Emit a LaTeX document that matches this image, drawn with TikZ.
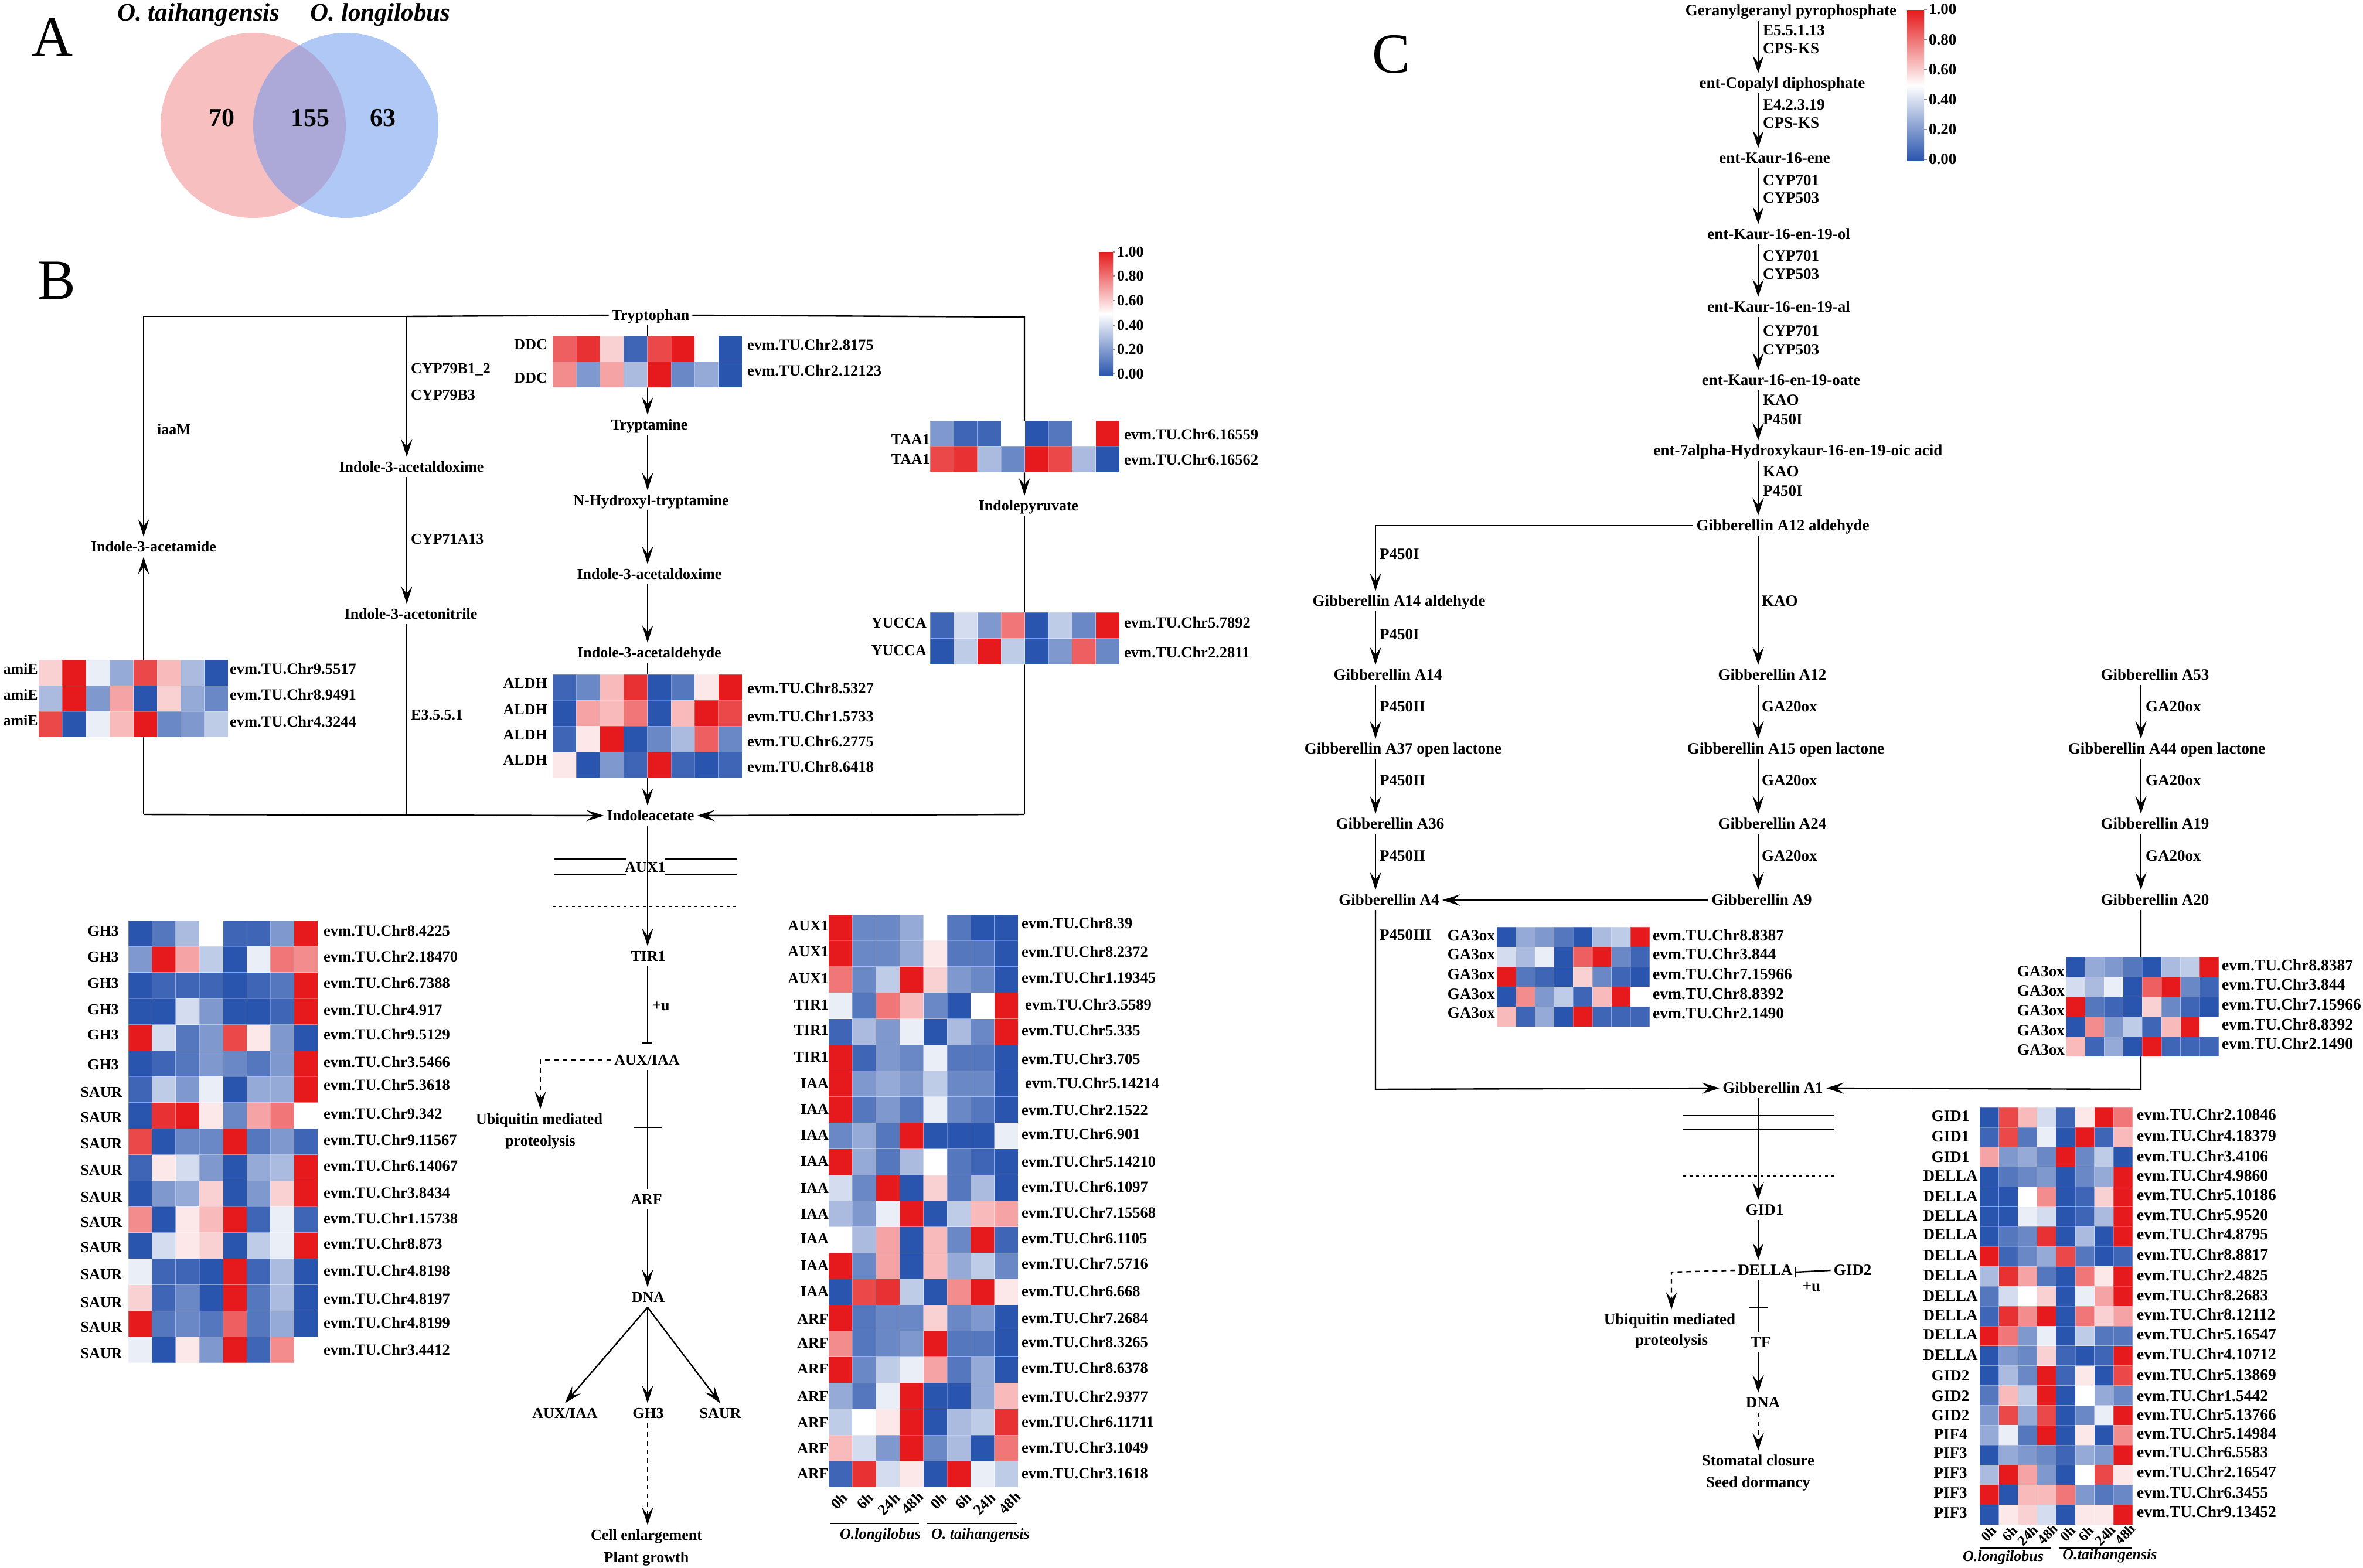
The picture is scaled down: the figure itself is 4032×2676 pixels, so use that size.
\documentclass[tikz,border=0pt]{standalone}
\usepackage{fontspec}
\setmainfont{Liberation Serif}
\usetikzlibrary{arrows.meta}
\definecolor{hb}{HTML}{2A55AE}
\definecolor{hr}{HTML}{E61A1C}
\definecolor{vl}{HTML}{F8BFC1}
\definecolor{vr}{HTML}{B0C8F5}
\definecolor{vo}{HTML}{ACA9D8}
\newcommand\cellcol[1]{\ifnum#1<0 \edef\pct{\the\numexpr(#1)*(-10)\relax}\colorlet{cc}{hb!\pct!white}\else\edef\pct{\the\numexpr(#1)*10\relax}\colorlet{cc}{hr!\pct!white}\fi}
\newcommand\heatmap[5]{%
 \foreach \row [count=\j from 0] in {#5}{%
  \foreach \v [count=\i from 0] in \row {%
   \cellcol{\v}%
   \path[fill=cc,draw=white,draw opacity=.25,line width=.8pt] ({#1+\i*#3},{#2+\j*#4}) rectangle ++(#3,#4);
  }}}
\tikzset{
 ln/.style={line width=2.4pt,draw=black},
 arr/.style={ln,-{Stealth[length=30pt,width=19pt,inset=12pt]}},
 darr/.style={arr,dash pattern=on 8pt off 7pt},
 mem/.style={line width=2.2pt,dash pattern=on 5pt off 6pt},
 base/.style={inner sep=0pt,text height=18pt,text depth=1pt},
 fb/.style={font=\fontsize{26}{30}\selectfont\bfseries},
 fc/.style={font=\fontsize{27}{30}\selectfont\bfseries},
 lb/.style={base,fb,inner xsep=5pt,inner ysep=7.5pt},
 lc/.style={base,fc,inner xsep=5pt,inner ysep=7.5pt},
 gb/.style={base,anchor=west,font=\fontsize{26.5}{30}\selectfont\bfseries},
 gc/.style={base,anchor=west,font=\fontsize{27.5}{30}\selectfont\bfseries},
 rb/.style={base,anchor=east,fb},
 rc/.style={base,anchor=east,fc},
 eb/.style={base,anchor=west,fb},
 ec/.style={base,anchor=west,fc},
 tb/.style={base,rotate=45,fb},
 tc/.style={base,rotate=45,font=\fontsize{24}{28}\selectfont\bfseries},
 sp/.style={inner sep=0pt,font=\fontsize{26}{30}\selectfont\bfseries\itshape},
 spbig/.style={inner sep=0pt,font=\fontsize{43}{48}\selectfont\bfseries\itshape},
 panel/.style={inner sep=0pt,font=\fontsize{97}{100}\selectfont},
 num/.style={inner sep=0pt,font=\fontsize{44}{48}\selectfont\bfseries},
 tick/.style={line width=1.5pt,draw=black!45},
}
\begin{document}
\begin{tikzpicture}[x=1pt,y=-1pt]
\useasboundingbox (0,0) rectangle (4032,2676);
% ---------- A
\node[panel] (pa) at (90,63) {A};
\fill[vl] (432,214) circle (158pt);
\fill[vr] (590,214) circle (158pt);
\begin{scope}\clip (432,214) circle (158pt);\fill[vo] (590,214) circle (158pt);\end{scope}
\node[spbig] (sa1) at (339,25) {O. taihangensis};
\node[spbig] (sa2) at (649,25) {O. longilobus};
\node[num] (n70) at (378,201) {70};
\node[num] (n155) at (529,201) {155};
\node[num] (n63) at (653,201) {63};
% ---------- B
\node[panel] (pb) at (97,479) {B};
\coordinate (bx) at (1105,0);
\coordinate (jl) at (245,540);
\coordinate (jm) at (694,540);
\coordinate (jr) at (1748,541);
\coordinate (jbl) at (245,1390);
\coordinate (jbm) at (694,1390);
\coordinate (jbr) at (1748,1390);
\node[lb] (trp) at (1110,538) {Tryptophan};
\node[lb] (tra) at (1108,725) {Tryptamine};
\node[lb] (nhy) at (1111,854) {N-Hydroxyl-tryptamine};
\node[lb] (ald) at (1108,980) {Indole-3-acetaldoxime};
\node[lb] (alh) at (1108,1114) {Indole-3-acetaldehyde};
\node[lb] (ia) at (1110,1392) {Indoleacetate};
\node[lb] (iam) at (262,933) {Indole-3-acetamide};
\node[lb] (iao) at (702,797) {Indole-3-acetaldoxime};
\node[lb] (ian) at (701,1048) {Indole-3-acetonitrile};
\node[lb] (ipy) at (1755,863) {Indolepyruvate};
\node[eb] (e1) at (268,733) {iaaM};
\node[eb] (e2) at (701,629) {CYP79B1\_2};
\node[eb] (e3) at (701,674) {CYP79B3};
\node[eb] (e4) at (701,920) {CYP71A13};
\node[eb] (e5) at (701,1220) {E3.5.5.1};
\draw[ln] (trp.west) -- (jm);
\draw[arr] (jm) -- (jl) -- (jl |- iam.north);
\draw[arr] (jm) -- (jm |- iao.north);
\draw[arr] (iao.south -| jm) -- (jm |- ian.north);
\draw[ln] (ian.south -| jm) -- (jbm);
\draw[arr] (trp.east) -- (jr) -- (jr |- ipy.north);
\draw[ln] (ipy.south -| jr) -- (jbr);
\draw[arr] (jbr) -- (ia.east);
\draw[arr] (jbl) -- (ia.west);
\draw[arr] (jbl) -- (jbl |- iam.south);
\draw[arr] (trp.south -| bx) -- (tra.north -| bx);
\draw[arr] (tra.south -| bx) -- (nhy.north -| bx);
\draw[arr] (nhy.south -| bx) -- (ald.north -| bx);
\draw[arr] (ald.south -| bx) -- (alh.north -| bx);
\draw[arr] (alh.south -| bx) -- (ia.north -| bx);
% lower B
\node[lb] (tir) at (1106,1632) {TIR1};
\node[base,fb] (aux) at (1101,1480) {AUX1};
\node[lb] (aia) at (1104,1809) {AUX/IAA};
\node[lb] (arf) at (1103,2047) {ARF};
\node[lb] (dna) at (1106,2214) {DNA};
\node[lb] (aia2) at (964,2412) {AUX/IAA};
\node[lb] (gh3) at (1106,2412) {GH3};
\node[lb] (saur) at (1229,2412) {SAUR};
\node[lb] (cell) at (1103,2620) {Cell enlargement};
\node[base,fb] (plant) at (1103,2658) {Plant growth};
\node[lb] (ubi) at (920,1910) {Ubiquitin mediated};
\node[base,fb] (pro) at (922,1947) {proteolysis};
\node[base,fb] (pu) at (1128,1716) {+u};
\draw[ln] (945,1466) -- (1068,1466) (945,1492) -- (1068,1492) (1134,1466) -- (1258,1466) (1134,1492) -- (1258,1492);
\draw[mem] (943,1547) -- (1260,1547);
\draw[arr] (ia.south -| bx) -- (tir.north -| bx);
\coordinate (tb1) at (1105,1780);
\draw[ln] (tir.south -| bx) -- (tb1);
\draw[ln] (1095,1780) -- (1113,1780);
\draw[ln] (aia.south -| bx) -- (arf.north -| bx);
\draw[ln] (1081,1924) -- (1130,1924);
\draw[arr] (arf.south -| bx) -- (dna.north -| bx);
\draw[arr] (dna.south -| bx) -- (aia2.north);
\draw[arr] (dna.south -| bx) -- (gh3.north -| bx);
\draw[arr] (dna.south -| bx) -- (saur.north);
\draw[darr] (gh3.south -| bx) -- (cell.north -| bx);
\coordinate (dj) at (922,1809);
\draw[darr] (aia.west) -- (dj) -- (dj |- ubi.north);
% heatmaps B
\heatmap{943}{573}{40.4}{44}{{7,9,2,-9,8,10,0,-10},{5,-6,4,-4,10,-7,-5,-10}}
\node[rb] (d1) at (934,588) {DDC};
\node[rb] (d2) at (934,645) {DDC};
\node[gb] (dg1) at (1275,589) {evm.TU.Chr2.8175};
\node[gb] (dg2) at (1275,633) {evm.TU.Chr2.12123};
\heatmap{66}{1126}{40.4}{44}{{2,10,-1,-5,8,3,-4,-10},{-4,10,-6,4,-10,2,-5,-7},{8,-10,-1,3,10,-7,-6,-3}}
\foreach \y/\t [count=\i] in {1142/9.5517,1186/8.9491,1232/4.3244}{\node[gb,name=ag\i] at (392,\y) {evm.TU.Chr\t};}
\foreach \y [count=\i] in {1142,1186,1230}{\node[rb,name=am\i] at (65,\y) {amiE};}
\heatmap{943}{1151}{40.4}{44.2}{{-9,-7,3,9,-10,-8,1,10},{-10,4,3,6,-10,3,10,8},{-9,1,10,-10,-7,-4,7,-7},{1,-10,-6,-9,10,-9,-10,-9}}
\foreach \y [count=\i] in {1166,1211,1254,1297}{\node[rb,name=al\i] at (934,\y) {ALDH};}
\foreach \y/\t [count=\i] in {1175/8.5327,1223/1.5733,1266/6.2775,1309/8.6418}{\node[gb,name=lg\i] at (1275,\y) {evm.TU.Chr\t};}
\heatmap{1587}{718}{40.4}{44}{{-6,-9,-9,0,-10,-8,0,10},{8,9,-4,-7,10,8,-4,-10}}
\node[rb] (ta1) at (1587,750) {TAA1};
\node[rb] (ta2) at (1587,784) {TAA1};
\node[gb] (tg1) at (1918,742) {evm.TU.Chr6.16559};
\node[gb] (tg2) at (1918,785) {evm.TU.Chr6.16562};
\heatmap{1587}{1045}{40.4}{44.5}{{-9,-2,-6,6,-10,-3,-7,10},{-10,-3,10,-3,-10,-6,7,-7}}
\node[rb] (yu1) at (1581,1063) {YUCCA};
\node[rb] (yu2) at (1581,1110) {YUCCA};
\node[gb] (yg1) at (1918,1063) {evm.TU.Chr5.7892};
\node[gb] (yg2) at (1918,1114) {evm.TU.Chr2.2811};
% colourbar B
\shade[top color=hr,bottom color=hb,middle color=white] (1875,430) rectangle (1899,641);
\foreach \y/\t [count=\i] in {430/1.00,471/0.80,513/0.60,555/0.40,596/0.20,638/0.00}{\draw[tick] (1899,\y) -- (1903,\y); \node[eb,name=cb\i] at (1906,\y) {\t};}
% GH3/SAUR
\heatmap{219}{1571}{40.4}{44.4}{{-10,-8,-4,0,-9,-9,-6,10},{-6,10,4,-3,-10,-1,6,5},{-10,-9,-9,-9,-10,-9,-8,10},{-10,-10,-2,-6,-10,-10,-9,10},{10,-2,-8,-6,8,1,-6,-10},{-10,-9,-8,-6,-7,-8,-6,10},{-9,-3,-6,-1,-10,-5,-5,10},{-10,9,10,1,-7,4,6,0},{8,-10,-7,-7,10,-8,-6,-9},{-9,1,-2,-6,-10,-5,-4,10},{-10,-6,-5,2,-10,-6,2,10},{5,-10,1,3,10,-9,-1,-9},{-10,-2,1,2,-10,-3,-1,10},{-1,-9,-9,-10,10,-9,-4,-10},{2,-9,-7,-10,10,-8,-4,-10},{10,-8,-7,-8,7,-8,-5,-10},{-1,-10,1,-6,10,-9,5,0}}
\foreach \y [count=\i] in {1589,1633,1678,1723,1766,1817}{\node[base,fb,name=gl\i] at (176,\y) {GH3};}
\foreach \y [count=\i] in {1864,1907,1952,1997,2043,2086,2129,2175,2223,2265,2310}{\node[base,fb,name=sl\i] at (173,\y) {SAUR};}
\foreach \y/\t [count=\i] in {1589/8.4225,1633/2.18470,1678/6.7388,1724/4.917,1766/9.5129,1813/3.5466,1852/5.3618,1901/9.342,1946/9.11567,1990/6.14067,2036/3.8434,2080/1.15738,2123/8.873,2169/4.8198,2217/4.8197,2258/4.8199,2304/3.4412}{\node[gb,name=gg\i] at (552,\y) {evm.TU.Chr\t};}
% AUX heatmap
\heatmap{1414}{1561}{40.4}{44.4}{{10,-7,-7,-5,0,-8,-10,-10},{10,-7,-7,-5,1,-8,-8,-10},{6,-7,-3,10,2,-6,-7,-10},{-1,-8,6,3,-7,-10,0,10},{-9,-4,-6,-1,-10,-4,-7,10},{10,-9,-6,-7,-1,-8,-8,-10},{10,-6,-5,-6,-3,-7,-7,-10},{10,-8,-6,-8,-1,-7,-8,-10},{-7,-5,-8,10,-10,-10,-10,-1},{10,-5,-8,-4,0,-8,-9,-10},{-2,-7,10,-10,2,-8,-4,-10},{-4,-6,-1,10,-10,-3,3,4},{0,-4,4,-10,3,-7,10,-9},{10,-7,4,-10,3,-5,-3,-7},{-10,8,9,-3,-10,5,10,1},{10,-8,-7,-7,2,-7,-6,-10},{5,-8,-7,-6,10,-8,-8,-10},{10,-7,-3,-1,4,-8,-5,-10},{-5,-8,-1,10,-10,-10,-5,3},{-3,0,1,10,-10,-4,-3,9},{3,-2,-6,10,-7,-4,-10,6},{-9,9,-2,1,-10,10,-1,-3}}
\foreach \y/\t [count=\i] in {1580/AUX1,1624/AUX1,1670/AUX1,1715/TIR1,1758/TIR1,1804/TIR1,1849/IAA,1893/IAA,1937/IAA,1982/IAA,2028/IAA,2072/IAA,2114/IAA,2160/IAA,2204/IAA,2251/ARF,2292/ARF,2336/ARF,2383/ARF,2428/ARF,2472/ARF,2515/ARF}{\node[rb,name=xl\i] at (1414,\y) {\t};}
\foreach \x/\y/\t [count=\i] in {1743/1576/8.39,1743/1625/8.2372,1743/1669/1.19345,1749/1715/3.5589,1743/1759/5.335,1743/1808/3.705,1749/1849/5.14214,1743/1895/2.1522,1743/1936/6.901,1743/1983/5.14210,1743/2026/6.1097,1743/2070/7.15568,1743/2114/6.1105,1743/2157/7.5716,1743/2204/6.668,1743/2250/7.2684,1743/2291/8.3265,1743/2335/8.6378,1743/2384/2.9377,1743/2427/6.11711,1743/2471/3.1049,1743/2515/3.1618}{\node[gb,name=xg\i] at (\x,\y) {evm.TU.Chr\t};}
\foreach \x/\y/\t [count=\i] in {1432/2562/0h,1476/2562/6h,1517/2567/24h,1557/2565/48h,1602/2562/0h,1644/2562/6h,1680/2567/24h,1723/2565/48h}{\node[tb,name=tx\i] at (\x,\y) {\t};}
\draw[ln] (1416,2600) -- (1568,2600) (1582,2600) -- (1735,2600);
\node[sp] (s1) at (1502,2620) {O.longilobus};
\node[sp] (s2) at (1673,2620) {O. taihangensis};
% ---------- C
\node[panel] (pc) at (2374,93) {C};
\coordinate (cx) at (3000,0);
\coordinate (cl) at (2347,897);
\coordinate (cr) at (3653,0);
\coordinate (cb1) at (2347,1859);
\coordinate (cb2) at (3653,1859);
\node[lc] (c1) at (3056,18) {Geranylgeranyl pyrophosphate};
\node[lc] (c2) at (3041,142) {ent-Copalyl diphosphate};
\node[lc] (c3) at (3028,270) {ent-Kaur-16-ene};
\node[lc] (c4) at (3035,400) {ent-Kaur-16-en-19-ol};
\node[lc] (c5) at (3035,524) {ent-Kaur-16-en-19-al};
\node[lc] (c6) at (3039,649) {ent-Kaur-16-en-19-oate};
\node[lc] (c7) at (3068,769) {ent-7alpha-Hydroxykaur-16-en-19-oic acid};
\node[lc] (c8) at (3042,897) {Gibberellin A12 aldehyde};
\foreach \a/\b in {c1/c2,c2/c3,c3/c4,c4/c5,c5/c6,c6/c7,c7/c8}{\draw[arr] (\a.south -| cx) -- (\b.north -| cx);}
\foreach \y/\t [count=\i] in {52/E5.5.1.13,83/CPS-KS,179/E4.2.3.19,210/CPS-KS,308/CYP701,338/CYP503,437/CYP701,468/CYP503,565/CYP701,597/CYP503,683/KAO,716/P450I,805/KAO,838/P450I}{\node[ec,name=ce\i] at (3008,\y) {\t};}
% left col
\node[lc] (l1) at (2387,1026) {Gibberellin A14 aldehyde};
\node[lc] (l2) at (2368,1152) {Gibberellin A14};
\node[lc] (l3) at (2394,1278) {Gibberellin A37 open lactone};
\node[lc] (l4) at (2372,1406) {Gibberellin A36};
\node[lc] (l5) at (2370,1536) {Gibberellin A4};
\draw[arr] (c8.west) -- (cl) -- (cl |- l1.north);
\foreach \a/\b in {l1/l2,l2/l3,l3/l4,l4/l5}{\draw[arr] (\a.south -| cl) -- (\b.north -| cl);}
\foreach \y/\t [count=\i] in {946/P450I,1083/P450I,1206/P450II,1332/P450II,1461/P450II,1596/P450III}{\node[ec,name=cp\i] at (2354,\y) {\t};}
% mid col
\node[lc] (m2) at (3024,1152) {Gibberellin A12};
\node[lc] (m3) at (3047,1278) {Gibberellin A15 open lactone};
\node[lc] (m4) at (3024,1406) {Gibberellin A24};
\node[lc] (m5) at (3006,1536) {Gibberellin A9};
\draw[arr] (c8.south -| cx) -- (m2.north -| cx);
\foreach \a/\b in {m2/m3,m3/m4,m4/m5}{\draw[arr] (\a.south -| cx) -- (\b.north -| cx);}
\draw[arr] (m5.west) -- (l5.east);
\foreach \y/\t [count=\i] in {1026/KAO,1206/GA20ox,1332/GA20ox,1461/GA20ox}{\node[ec,name=cm\i] at (3006,\y) {\t};}
% right col
\node[lc] (r2) at (3677,1152) {Gibberellin A53};
\node[lc] (r3) at (3697,1278) {Gibberellin A44 open lactone};
\node[lc] (r4) at (3677,1406) {Gibberellin A19};
\node[lc] (r5) at (3677,1536) {Gibberellin A20};
\foreach \a/\b in {r2/r3,r3/r4,r4/r5}{\draw[arr] (\a.south -| cr) -- (\b.north -| cr);}
\foreach \y/\t [count=\i] in {1206/GA20ox,1332/GA20ox,1461/GA20ox}{\node[ec,name=cq\i] at (3661,\y) {\t};}
% A1
\node[lc] (a1) at (3025,1857) {Gibberellin A1};
\draw[arr] (l5.south -| cl) -- (cb1) -- (a1.west);
\draw[arr] (r5.south -| cr) -- (cb2) -- (a1.east);
\node[lc] (gd1) at (3011,2065) {GID1};
\node[lc] (del) at (3012,2168) {DELLA};
\node[lc] (gd2) at (3161,2168) {GID2};
\node[base,fc] (cu) at (3091,2195) {+u};
\node[lc] (tf) at (3004,2291) {TF};
\node[lc] (dn2) at (3008,2394) {DNA};
\node[lc] (ub2) at (2849,2252) {Ubiquitin mediated};
\node[base,fc] (pr2) at (2852,2287) {proteolysis};
\node[lc] (st) at (3000,2493) {Stomatal closure};
\node[base,fc] (sd) at (3000,2530) {Seed dormancy};
\draw[ln] (2872,1904) -- (3129,1904) (2872,1928) -- (3129,1928);
\draw[mem] (2872,2007) -- (3129,2007);
\draw[arr] (a1.south -| cx) -- (gd1.north -| cx);
\draw[arr] (gd1.south -| cx) -- (del.north -| cx);
\coordinate (tbc) at (3064,2171);
\draw[ln] (gd2.west) -- (tbc);
\draw[ln] (3064,2163) -- (3064,2179);
\draw[ln] (del.south -| cx) -- (tf.north -| cx);
\draw[ln] (2984,2231) -- (3016,2231);
\draw[arr] (tf.south -| cx) -- (dn2.north -| cx);
\draw[darr] (dn2.south -| cx) -- (st.north -| cx);
\coordinate (dj2) at (2852,2171);
\draw[darr] (del.west) -- (dj2) -- (dj2 |- ub2.north);
% colourbar C
\shade[top color=hr,bottom color=hb,middle color=white] (3254,18) rectangle (3283,274);
\foreach \y/\t [count=\i] in {16/1.00,68/0.80,119/0.60,170/0.40,221/0.20,272/0.00}{\draw[tick] (3283,\y) -- (3288,\y); \node[ec,name=cc\i] at (3291,\y) {\t};}
% GA3ox
\foreach \X/\Y/\Lx/\Gx/\pre/\Ra/\Rb/\Rc/\Rd/\Re/\Sa/\Sb/\Sc/\Sd/\Se in {2554/1582/2551/2820/a/1597/1629/1663/1697/1729/1597/1629/1663/1697/1730,3525/1633/3523/3791/b/1658/1691/1725/1759/1792/1648/1681/1715/1749/1782}{
 \heatmap{\X}{\Y}{32.6}{34}{{-10,-5,-6,-8,-10,-4,-3,10},{-2,-4,-1,-10,7,10,-7,-9},{10,-8,-9,-10,2,-7,-9,-10},{-10,5,-6,-3,-9,3,10,0},{3,-9,-5,-10,10,-9,-9,-9}}
 \node[rc,name=\pre l1] at (\Lx,\Ra) {GA3ox};
 \node[rc,name=\pre l2] at (\Lx,\Rb) {GA3ox};
 \node[rc,name=\pre l3] at (\Lx,\Rc) {GA3ox};
 \node[rc,name=\pre l4] at (\Lx,\Rd) {GA3ox};
 \node[rc,name=\pre l5] at (\Lx,\Re) {GA3ox};
 \node[gc,name=\pre g1] at (\Gx,\Sa) {evm.TU.Chr8.8387};
 \node[gc,name=\pre g2] at (\Gx,\Sb) {evm.TU.Chr3.844};
 \node[gc,name=\pre g3] at (\Gx,\Sc) {evm.TU.Chr7.15966};
 \node[gc,name=\pre g4] at (\Gx,\Sd) {evm.TU.Chr8.8392};
 \node[gc,name=\pre g5] at (\Gx,\Se) {evm.TU.Chr2.1490};
}
% GID heatmap
\heatmap{3378}{1890}{32.6}{33.9}{{-10,8,3,-2,-9,1,10,6},{-9,8,-8,-1,-10,10,-9,3},{4,-6,-5,-7,10,-7,-3,-10},{-10,-8,-7,-6,-10,-7,-5,10},{-10,-10,0,5,-10,-9,2,10},{-10,-10,-1,-2,-10,-9,-4,10},{-10,-8,-7,9,-10,-4,-10,10},{10,-9,-7,-5,8,-8,-10,-9},{-4,9,4,-8,-10,6,1,10},{-8,-2,0,2,-10,-1,4,10},{-9,9,5,10,-10,6,2,4},{10,6,-6,-1,-10,-3,-8,-8},{-10,-6,-7,2,-9,-10,-9,10},{-10,-4,-7,10,-9,1,-10,8},{-8,3,-3,10,-10,0,-5,-7},{-6,8,-5,8,-10,-7,-1,10},{-5,-1,-8,10,-10,1,-10,5},{-10,-5,-6,-7,-9,-5,-6,10},{-4,10,4,-6,-10,0,8,1},{10,-10,3,3,6,-6,-8,-7},{-10,1,2,-2,-10,1,1,10}}
\foreach \y/\t [count=\i] in {1905/GID1,1940/GID1,1975/GID1,2007/DELLA,2042/DELLA,2075/DELLA,2107/DELLA,2143/DELLA,2177/DELLA,2212/DELLA,2245/DELLA,2278/DELLA,2313/DELLA,2348/GID2,2383/GID2,2416/GID2,2448/PIF4,2480/PIF3,2514/PIF3,2548/PIF3,2582/PIF3}{\node[base,fc,name=yl\i] at (3328,\y) {\t};}
\foreach \y/\t [count=\i] in {1903/2.10846,1939/4.18379,1974/3.4106,2007/4.9860,2040/5.10186,2074/5.9520,2107/4.8795,2142/8.8817,2177/2.4825,2211/8.2683,2244/8.12112,2278/5.16547,2312/4.10712,2347/5.13869,2383/1.5442,2415/5.13766,2447/5.14984,2479/6.5583,2513/2.16547,2548/6.3455,2581/9.13452}{\node[gc,name=yg\i] at (3646,\y) {evm.TU.Chr\t};}
\foreach \x/\y/\t [count=\i] in {3393/2617/0h,3429/2617/6h,3460/2620/24h,3494/2618/48h,3528/2617/0h,3559/2617/6h,3592/2620/24h,3626/2618/48h}{\node[tc,name=ty\i] at (\x,\y) {\t};}
\draw[ln] (3378,2642) -- (3500,2642) (3514,2642) -- (3638,2642);
\node[sp] (s3) at (3418,2658) {O.longilobus};
\node[sp] (s4) at (3600,2655) {O.taihangensis};
\end{tikzpicture}
\end{document}
